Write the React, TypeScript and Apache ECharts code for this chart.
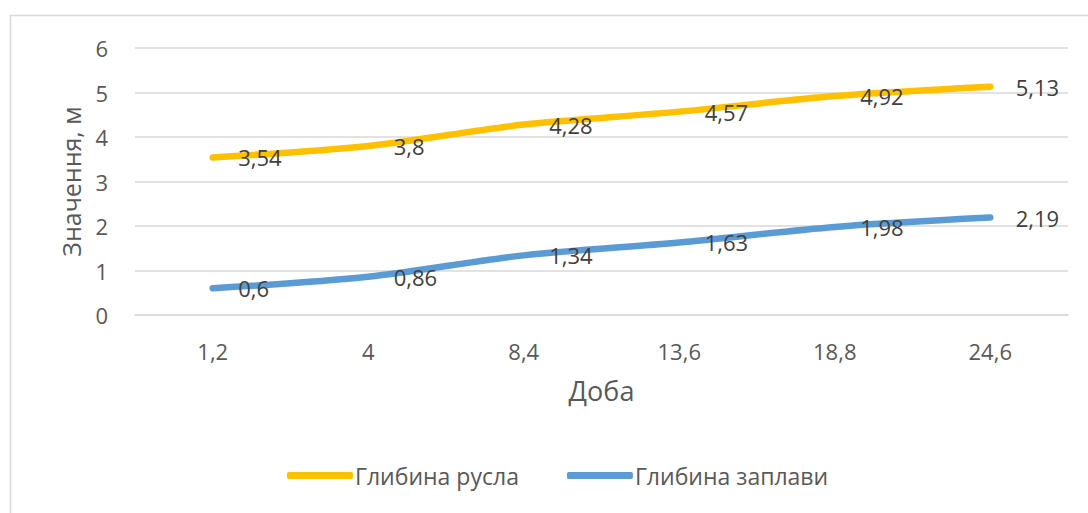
import React, { useEffect, useRef } from "react";
import * as echarts from "echarts";

const categories = ["1,2", "4", "8,4", "13,6", "18,8", "24,6"];
const channelDepth = [3.54, 3.8, 4.28, 4.57, 4.92, 5.13];
const floodplainDepth = [0.6, 0.86, 1.34, 1.63, 1.98, 2.19];
const seriesNames = ["Глибина русла", "Глибина заплави"];
const yAxisTitle = "Значення, м";
const xAxisTitle = "Доба";

const FONT = "Open Sans";
const fmt = (v: number) => String(v).replace(".", ",");

export default function App() {
  const ref = useRef<HTMLDivElement>(null);
  useEffect(() => {
    if (!ref.current) return;
    const chart = echarts.init(ref.current, null, { renderer: "svg" });
    const label = {
      show: true,
      position: "right" as const,
      distance: 25,
      color: "#404040",
      fontSize: 22,
      fontFamily: FONT,
      formatter: (p: any) => fmt(p.value),
    };
    chart.setOption({
      animation: false,
      backgroundColor: "#ffffff",
      textStyle: { fontFamily: FONT },
      graphic: [
        {
          type: "rect",
          shape: { x: 10.5, y: 15.5, width: 1200, height: 600 },
          style: { fill: "none", stroke: "#d9d9d9", lineWidth: 1.5 },
          silent: true,
          z: -1,
        },
      ],
      grid: { left: 135, right: 20, top: 48, bottom: 198, containLabel: false },
      legend: {
        bottom: 21,
        left: 282,
        icon: "roundRect",
        itemWidth: 66,
        itemHeight: 7,
        itemGap: 48,
        textStyle: { color: "#595959", fontSize: 23, fontFamily: FONT, padding: [0, 0, 0, -3] },
        data: seriesNames,
      },
      xAxis: {
        type: "category",
        data: categories,
        boundaryGap: true,
        name: xAxisTitle,
        nameLocation: "middle",
        nameGap: 62,
        nameTextStyle: { color: "#595959", fontSize: 27, fontFamily: FONT },
        axisLine: { show: true, lineStyle: { color: "#d9d9d9", width: 1.5 } },
        axisTick: { show: false },
        axisLabel: { color: "#595959", fontSize: 22, fontFamily: FONT, margin: 25 },
      },
      yAxis: {
        type: "value",
        min: 0,
        max: 6,
        interval: 1,
        name: yAxisTitle,
        nameLocation: "middle",
        nameGap: 52,
        nameTextStyle: { color: "#595959", fontSize: 25, fontFamily: FONT },
        axisLine: { show: false },
        axisTick: { show: false },
        axisLabel: { color: "#595959", fontSize: 22, fontFamily: FONT, margin: 27 },
        splitLine: { lineStyle: { color: "#d9d9d9", width: 1.5 } },
      },
      series: [
        {
          name: seriesNames[0],
          type: "line",
          data: channelDepth,
          smooth: 0.3,
          symbol: "circle",
          symbolSize: 1,
          showSymbol: true,
          color: "#FFC000",
          itemStyle: { color: "#FFC000" },
          lineStyle: { color: "#FFC000", width: 6.5, cap: "round" },
          label,
        },
        {
          name: seriesNames[1],
          type: "line",
          data: floodplainDepth,
          smooth: 0.3,
          symbol: "circle",
          symbolSize: 1,
          showSymbol: true,
          color: "#5B9BD5",
          itemStyle: { color: "#5B9BD5" },
          lineStyle: { color: "#5B9BD5", width: 6.5, cap: "round" },
          label,
        },
      ],
    });
    return () => chart.dispose();
  }, []);
  return (
    <div
      ref={ref}
      style={{ position: "fixed", left: 0, top: 0, width: 1088, height: 513 }}
    />
  );
}
